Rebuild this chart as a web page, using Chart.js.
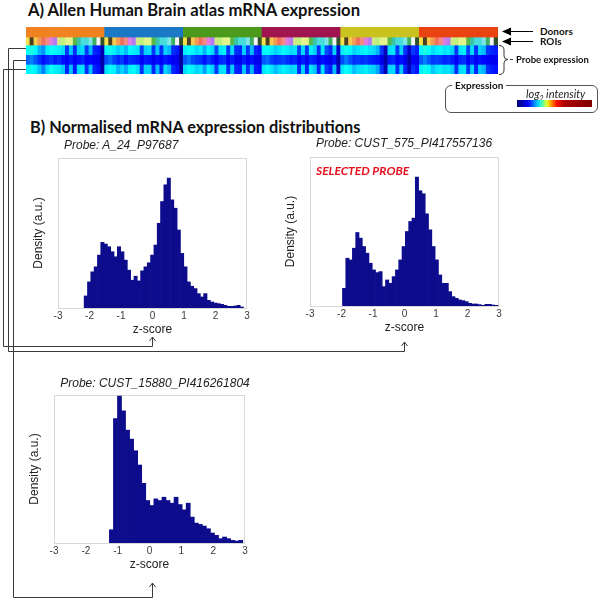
<!DOCTYPE html>
<html><head><meta charset="utf-8">
<script src="https://cdn.jsdelivr.net/npm/chart.js@4.4.1/dist/chart.umd.min.js"></script>
<style>
html,body{margin:0;padding:0;background:#fff;}
body{width:601px;height:600px;position:relative;overflow:hidden;font-family:"Liberation Sans",Arial,sans-serif;}
canvas{position:absolute;}
.t{position:absolute;white-space:nowrap;line-height:1.2;}
.h{font-family:Lato,"Liberation Sans",sans-serif;font-weight:bold;color:#111;}
.pt{font-family:"Liberation Sans",Arial,sans-serif;font-style:italic;font-size:12px;color:#222;}
</style></head><body>

<div class="t h" style="left:28px;top:1px;font-size:16.6px;">A) Allen Human Brain atlas mRNA expression</div>
<div class="t h" style="left:30px;top:117px;font-size:16.3px;">B) Normalised mRNA expression distributions</div>

<canvas id="heat" width="472" height="47" style="left:26px;top:27px;"></canvas>

<div class="t h" style="left:540px;top:25px;font-size:10px;">Donors</div>
<div class="t h" style="left:540px;top:35px;font-size:10px;">ROIs</div>
<div class="t h" style="left:516px;top:54px;font-size:9.5px;">Probe expression</div>

<div style="position:absolute;left:445px;top:85px;width:151px;height:26px;border:1px solid #555;border-radius:6px;"></div>
<div class="t h" style="left:452px;top:79px;font-size:10px;background:#fff;padding:0 3px;">Expression</div>
<div class="t" style="left:526px;top:87px;font-family:Lato,sans-serif;font-style:italic;font-size:11px;color:#222;">log<sub style="font-size:7px;">2</sub> intensity</div>
<div style="position:absolute;left:517px;top:100px;width:75px;height:7px;background:linear-gradient(to right,#00007a 0%,#0000c8 10%,#0000ff 15%,#00c8ff 27%,#40ffc0 33%,#e8ff20 40%,#ff9000 46%,#ff1000 53%,#b00000 62%,#800000 100%);"></div>

<canvas id="h1" width="227" height="191" style="left:30px;top:150px;"></canvas>
<canvas id="h2" width="227" height="190" style="left:282px;top:149px;"></canvas>
<canvas id="h3" width="229" height="189" style="left:26px;top:387px;"></canvas>

<div class="t pt" style="left:64px;top:138px;">Probe: A_24_P97687</div>
<div class="t pt" style="left:404px;top:136px;transform:translateX(-50%);">Probe: CUST_575_PI417557136</div>
<div class="t pt" style="left:155px;top:376px;transform:translateX(-50%);">Probe: CUST_15880_PI416261804</div>
<div class="t" style="left:316px;top:164px;font-family:Lato,sans-serif;font-weight:bold;font-style:italic;font-size:12px;color:#e8101c;">SELECTED PROBE</div>

<svg width="601" height="600" style="position:absolute;left:0;top:0;pointer-events:none;">
 <g stroke="#3a3a3a" stroke-width="1" fill="none">
  <polyline points="26,48.5 8.5,48.5 8.5,351.5 404.5,351.5 404.5,342"/>
  <polyline points="26,60.5 13.5,60.5 13.5,597.5 152.5,597.5 152.5,583"/>
  <polyline points="26,69.5 3.5,69.5 3.5,346.5 152.5,346.5 152.5,337"/>
  <polyline points="149.5,341 152.5,337 155.5,341"/>
  <polyline points="401.5,346 404.5,342 407.5,346"/>
  <polyline points="149.5,587 152.5,583 155.5,587"/>
  <path d="M499,45.5 Q504,45.5 504,50 L504,56 Q504,59.5 508,59.5 Q504,59.5 504,63 L504,70 Q504,74.5 499,74.5"/>
  <line x1="510" y1="59.5" x2="513" y2="59.5"/>
  <line x1="507" y1="31.5" x2="533" y2="31.5" stroke="#000"/>
  <line x1="507" y1="41.5" x2="533" y2="41.5" stroke="#000"/>
 </g>
 <polygon points="502,31.5 511,27.5 511,35.5" fill="#000"/>
 <polygon points="502,41.5 511,37.5 511,45.5" fill="#000"/>
</svg>

<script>
// ---------------- Heatmap data ----------------
const donors = ['Donor 1','Donor 2','Donor 3','Donor 4','Donor 5','Donor 6'];
const donorColors = ['#f0831f','#1b78c6','#4b9a1b','#a0154f','#c9c21f','#ea4312'];
const roiPalette = ['#f2e04c','#4a4020','#f5c850','#f39a50','#f26e5e','#f38a84','#e07ce0','#b67af2','#cfe98a','#bff27a','#e4f48c','#58b848','#38c4a8','#48dcdc','#7fe6e8','#3cb060','#f4f4f4','#30502c'];
const roiOfColumn = [0,1,2,3,4,5,6,7,8,9,10,10,11,12,13,13,14,15,16,17];

const exprRow1 = [
 0.38,0.40,0.37,0.30,0.27,0.36,0.38,0.37,0.36,0.34,0.18,0.32,0.17,0.33,0.34,0.18,0.30,0.16,0.15,0.05,
 0.37,0.39,0.36,0.33,0.35,0.31,0.37,0.36,0.35,0.19,0.33,0.34,0.18,0.32,0.17,0.33,0.30,0.17,0.15,0.04,
 0.36,0.38,0.37,0.34,0.36,0.30,0.37,0.34,0.20,0.35,0.36,0.18,0.34,0.17,0.16,0.33,0.18,0.31,0.16,0.14,
 0.37,0.38,0.36,0.33,0.35,0.37,0.36,0.34,0.35,0.19,0.34,0.18,0.36,0.33,0.17,0.35,0.20,0.16,0.33,0.08,
 0.36,0.39,0.37,0.33,0.35,0.36,0.37,0.35,0.34,0.30,0.18,0.06,0.34,0.35,0.18,0.33,0.17,0.07,0.18,0.15,
 0.37,0.40,0.38,0.34,0.36,0.37,0.35,0.36,0.33,0.18,0.35,0.36,0.19,0.34,0.17,0.33,0.31,0.18,0.16,0.15];
const exprRow2 = [
 0.22,0.25,0.21,0.17,0.14,0.16,0.18,0.15,0.17,0.14,0.12,0.15,0.12,0.14,0.16,0.12,0.13,0.12,0.11,0.04,
 0.20,0.23,0.19,0.16,0.18,0.14,0.17,0.16,0.15,0.12,0.15,0.14,0.11,0.14,0.12,0.15,0.13,0.11,0.11,0.03,
 0.21,0.24,0.20,0.18,0.17,0.14,0.18,0.15,0.12,0.16,0.17,0.12,0.15,0.11,0.11,0.15,0.12,0.14,0.11,0.10,
 0.21,0.23,0.19,0.17,0.18,0.19,0.17,0.15,0.16,0.12,0.15,0.11,0.16,0.15,0.11,0.14,0.12,0.10,0.14,0.05,
 0.20,0.24,0.20,0.17,0.18,0.17,0.18,0.16,0.15,0.14,0.11,0.04,0.15,0.16,0.12,0.14,0.11,0.04,0.12,0.11,
 0.21,0.25,0.21,0.18,0.19,0.18,0.16,0.17,0.15,0.12,0.16,0.17,0.12,0.15,0.11,0.14,0.13,0.12,0.11,0.11];
const exprRow3 = [
 0.36,0.38,0.36,0.31,0.25,0.34,0.38,0.36,0.35,0.32,0.16,0.31,0.15,0.34,0.35,0.17,0.31,0.16,0.14,0.05,
 0.35,0.37,0.36,0.30,0.33,0.29,0.36,0.37,0.34,0.17,0.33,0.33,0.16,0.31,0.16,0.34,0.30,0.16,0.14,0.04,
 0.34,0.37,0.36,0.33,0.35,0.28,0.36,0.33,0.18,0.34,0.35,0.17,0.33,0.16,0.15,0.32,0.17,0.30,0.15,0.13,
 0.35,0.37,0.35,0.31,0.34,0.36,0.35,0.33,0.34,0.17,0.33,0.16,0.35,0.32,0.16,0.34,0.18,0.15,0.31,0.07,
 0.35,0.38,0.36,0.31,0.34,0.35,0.36,0.34,0.33,0.29,0.17,0.05,0.33,0.34,0.17,0.32,0.16,0.06,0.17,0.14,
 0.36,0.39,0.37,0.32,0.35,0.36,0.34,0.35,0.32,0.17,0.34,0.35,0.18,0.33,0.16,0.32,0.30,0.17,0.15,0.14];

// ---------------- Histogram data ----------------
const zTicks = [-3,-2,-1,0,1,2,3];
const binsProbeA24 = [-2.117,-2.012,-1.907,-1.801,-1.696,-1.590,-1.485,-1.379,-1.274,-1.169,-1.063,-0.958,-0.852,-0.747,-0.641,-0.536,-0.431,-0.325,-0.220,-0.114,-0.009,0.097,0.202,0.307,0.413,0.518,0.624,0.729,0.834,0.940,1.045,1.151,1.256,1.362,1.467,1.572,1.678,1.783,1.889,1.994,2.100,2.205,2.310,2.416,2.521,2.627,2.732,2.837];
const densProbeA24 = [36,78,108,123,158,196,191,183,168,153,183,168,143,113,83,95,81,111,123,135,158,188,253,318,368,388,323,298,233,163,123,78,65,58,43,33,43,23,18,15,13,11,8,5,5,6,8,3];

const binsProbe575 = [-1.917,-1.812,-1.707,-1.602,-1.497,-1.392,-1.287,-1.182,-1.077,-0.972,-0.866,-0.761,-0.656,-0.551,-0.446,-0.341,-0.236,-0.131,-0.026,0.080,0.185,0.290,0.395,0.500,0.605,0.710,0.815,0.920,1.025,1.131,1.236,1.341,1.446,1.551,1.656,1.761,1.866,1.971,2.076,2.182,2.287,2.392,2.497,2.602,2.707,2.812,2.917];
const densProbe575 = [53,143,138,173,220,203,178,158,128,108,100,103,58,78,68,88,108,138,178,223,253,263,386,345,336,276,228,178,138,93,68,68,43,28,23,18,16,13,8,6,6,4,2,5,5,3,2];

const binsProbe15880 = [-1.197,-1.070,-0.943,-0.816,-0.689,-0.562,-0.435,-0.308,-0.181,-0.054,0.073,0.200,0.327,0.454,0.581,0.708,0.835,0.962,1.089,1.216,1.343,1.470,1.597,1.724,1.851,1.978,2.105,2.232,2.359,2.486,2.613,2.740,2.866];
const densProbe15880 = [40,375,443,398,340,313,278,235,180,128,113,133,128,138,128,120,138,116,100,120,78,60,56,51,43,30,23,13,18,13,8,6,8];

// ---------------- helpers ----------------
function jet(v){
  const c = x => Math.max(0, Math.min(1, x));
  const r = c(1.5 - Math.abs(4*v - 3)), g = c(1.5 - Math.abs(4*v - 2)), b = c(1.5 - Math.abs(4*v - 1));
  return 'rgb(' + Math.round(r*255) + ',' + Math.round(g*255) + ',' + Math.round(b*255) + ')';
}

// ---------------- Heatmap chart ----------------
const colLabels = [];
donors.forEach(d => roiOfColumn.forEach((r, j) => colLabels.push(d + ' ROI ' + (j + 1))));
const perDonor = roiOfColumn.length;
const bands = [[0,10],[10,18],[18,27.67],[27.67,37.33],[37.33,47]];
const rowColors = [
  colLabels.map((_, i) => donorColors[Math.floor(i / perDonor)]),
  colLabels.map((_, i) => roiPalette[roiOfColumn[i % perDonor]]),
  exprRow1.map(jet), exprRow2.map(jet), exprRow3.map(jet)
];
const rowNames = ['Donors','ROIs','Probe CUST_575_PI417557136','Probe CUST_15880_PI416261804','Probe A_24_P97687'];
new Chart(document.getElementById('heat'), {
  type: 'bar',
  data: {
    labels: colLabels,
    datasets: bands.map((b, k) => ({
      label: rowNames[k],
      data: colLabels.map(() => b),
      backgroundColor: rowColors[k],
      borderWidth: 0, barPercentage: 1, categoryPercentage: 1, grouped: false
    }))
  },
  options: {
    responsive: false, animation: false, events: [], devicePixelRatio: 1,
    layout: {padding: 0},
    plugins: {legend: {display: false}, tooltip: {enabled: false}},
    scales: {
      x: {display: false},
      y: {display: false, min: 0, max: 47, reverse: true}
    }
  }
});

// ---------------- Histogram charts ----------------
const framePlugin = {
  id: 'frame',
  beforeDatasetsDraw(chart) {
    const a = chart.chartArea, ctx = chart.ctx;
    ctx.save();
    ctx.strokeStyle = '#d8d8d8'; ctx.lineWidth = 1;
    ctx.strokeRect(Math.round(a.left) + 0.5, Math.round(a.top) + 0.5, Math.round(a.right - a.left) - 1, Math.round(a.bottom - a.top));
    ctx.restore();
  }
};
function histChart(id, bins, dens, ymax) {
  return new Chart(document.getElementById(id), {
    type: 'bar',
    data: {datasets: [{
      data: bins.map((x, i) => ({x: x, y: dens[i]})),
      backgroundColor: '#0c0c8c', borderWidth: 0,
      barThickness: 'flex', barPercentage: 1, categoryPercentage: 1
    }]},
    options: {
      responsive: false, animation: false, events: [], devicePixelRatio: 1,
      layout: {padding: {top: 8, right: 10, left: 0, bottom: 0}},
      plugins: {legend: {display: false}, tooltip: {enabled: false}},
      scales: {
        x: {
          type: 'linear', min: zTicks[0], max: zTicks[zTicks.length - 1], offset: false,
          afterBuildTicks: s => { s.ticks = zTicks.map(v => ({value: v})); },
          grid: {display: false, drawTicks: false}, border: {display: false},
          ticks: {padding: 2, color: '#3a3a3a', font: {family: 'Liberation Sans', size: 10}},
          title: {display: true, text: 'z-score', color: '#222', font: {family: 'Liberation Sans', size: 12}, padding: {top: 0, bottom: 4}},
          afterFit: s => { s.height = 33; }
        },
        y: {
          min: 0, max: ymax,
          ticks: {display: false}, grid: {display: false, drawTicks: false}, border: {display: false},
          title: {display: true, text: 'Density (a.u.)', color: '#222', font: {family: 'Liberation Sans', size: 12}, padding: {top: 1, bottom: 0}},
          afterFit: s => { s.width = 28; }
        }
      }
    },
    plugins: [framePlugin]
  });
}
histChart('h1', binsProbeA24, densProbeA24, 448);
histChart('h2', binsProbe575, densProbe575, 446);
histChart('h3', binsProbe15880, densProbe15880, 446);
</script>
</body></html>
